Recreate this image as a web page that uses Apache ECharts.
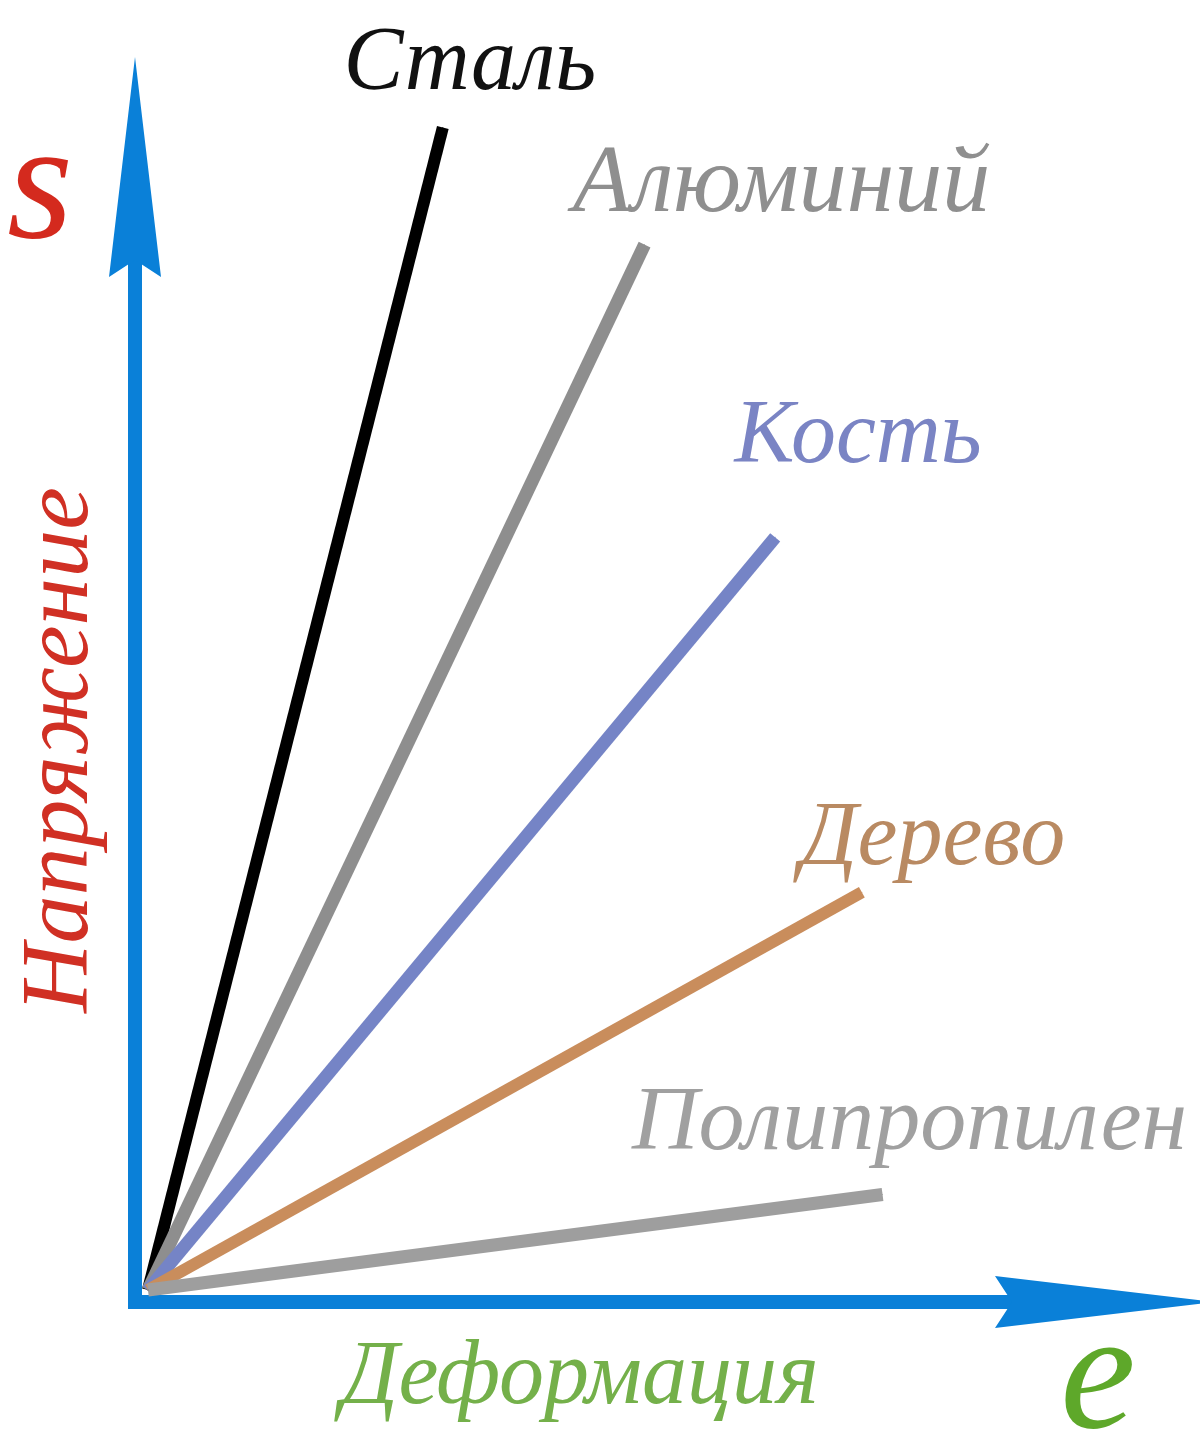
<!DOCTYPE html>
<html>
<head>
    <meta charset="utf-8">
    <title>stress-strain</title>
    <script src="https://cdn.jsdelivr.net/npm/echarts@6/dist/echarts.min.js"></script>
    <style>
        body{
            margin: 0;
            background: #fff;
        }
        #chart{
            width: 1200px;
            height: 1440px;
        }
    </style>
</head>
<body>
<div id="chart"></div>
<script>
    // материалы и концы прямых (условные единицы)
    var materials = ['Сталь', 'Алюминий', 'Кость', 'Дерево', 'Полипропилен'];
    var strainEnd = [22.8, 38.4, 48.5, 55.2, 56.8];
    var stressEnd = [97.3, 87.5, 63.0, 33.3, 8.0];

    var lineColors = ['#000000', '#8e8e8e', '#7584c6', '#c98d5c', '#9e9e9e'];
    var textColors = ['#111111', '#8f8f8f', '#7a84c4', '#b98a62', '#a0a0a0'];
    var lineWidths = [12, 13, 13, 12, 13];
    var fontSizes = [90, 96, 90, 90, 92];
    // смещение подписи от конца прямой: [dx, высота базовой линии над концом]
    var labelShift = [[27, 35], [137, 30], [83, 72], [71, 24], [27, 42]];

    var axisBlue = '#0a80d8';
    var serif = '"Liberation Serif", "DejaVu Serif", serif';
    var zw = '\u200b'; // невидимый символ рядом с кириллицей

    var series = materials.map(function (name, i) {
        var f = fontSizes[i];
        return {
            name: name,
            type: 'line',
            clip: false,
            symbol: 'circle',
            symbolSize: 1,
            itemStyle: {color: lineColors[i]},
            lineStyle: {color: lineColors[i], width: lineWidths[i]},
            data: [
                [0, 0],
                {
                    value: [strainEnd[i], stressEnd[i]],
                    label: {
                        show: true,
                        position: 'top',
                        distance: 0,
                        offset: [labelShift[i][0], -(labelShift[i][1] - 0.2 * f)],
                        formatter: name + zw,
                        color: textColors[i],
                        fontFamily: serif,
                        fontStyle: 'italic',
                        fontSize: f,
                        lineHeight: f
                    }
                }
            ]
        };
    });

    function axisLine() {
        return {
            show: true,
            onZero: false,
            symbol: ['none', 'path://M26,0 L52,220 L26,203 L0,220 Z'],
            symbolSize: [52, 220],
            lineStyle: {color: axisBlue, width: 14, cap: 'square'}
        };
    }

    var option = {
        backgroundColor: '#ffffff',
        animation: false,
        grid: {left: 135, right: 95, top: 167, bottom: 138, outerBoundsMode: 'none'},
        xAxis: {
            type: 'value',
            min: -1,
            max: 74,
            axisLine: axisLine(),
            axisTick: {show: false},
            axisLabel: {show: false},
            splitLine: {show: false}
        },
        yAxis: {
            type: 'value',
            min: -1,
            max: 94,
            axisLine: axisLine(),
            axisTick: {show: false},
            axisLabel: {show: false},
            splitLine: {show: false}
        },
        graphic: [
            {
                type: 'text', x: 40, y: 192,
                style: {text: 's', fill: '#d42a1e', font: 'italic 170px ' + serif,
                    textAlign: 'center', textVerticalAlign: 'middle'}
            },
            {
                type: 'text', x: 62, y: 750, rotation: Math.PI / 2,
                style: {text: 'Напряжение' + zw, fill: '#d03024', font: 'italic 96px ' + serif,
                    textAlign: 'center', textVerticalAlign: 'middle'}
            },
            {
                type: 'text', x: 580, y: 1379,
                style: {text: 'Деформация' + zw, fill: '#74b04a', font: 'italic 90px ' + serif,
                    textAlign: 'center', textVerticalAlign: 'middle'}
            },
            {
                type: 'text', x: 1098, y: 1382,
                style: {text: 'e', fill: '#5ea82a', font: 'italic 170px ' + serif,
                    textAlign: 'center', textVerticalAlign: 'middle'}
            }
        ],
        series: series
    };

    var myChart = echarts.init(document.getElementById('chart'));
    myChart.setOption(option);
</script>
</body>
</html>
